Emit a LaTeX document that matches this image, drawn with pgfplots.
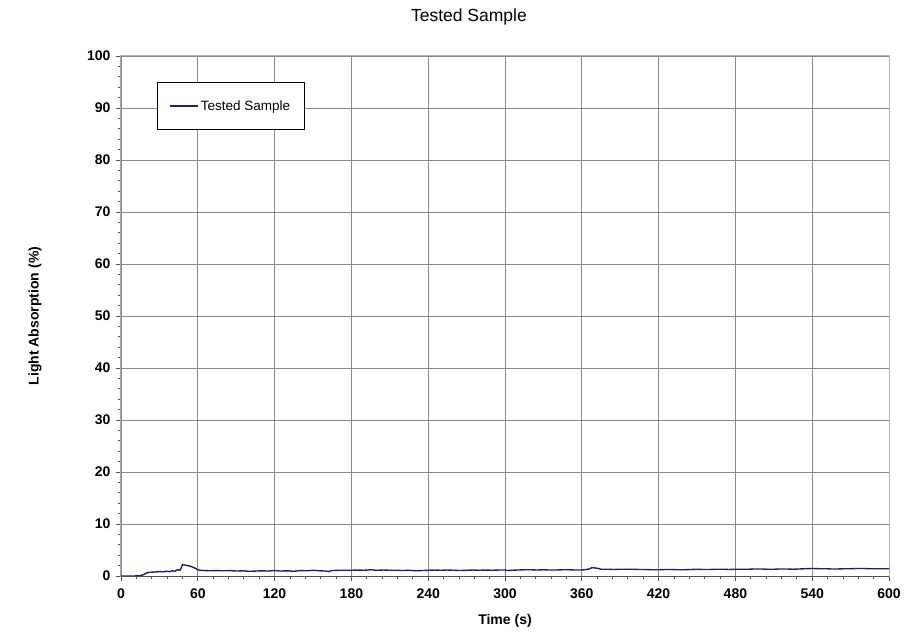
\documentclass[border=0pt]{standalone}
\usepackage{fontspec}
\setmainfont{Liberation Sans}
\usepackage{pgfplots}
\pgfplotsset{compat=1.18}
\definecolor{navyline}{HTML}{1F1F6E}
\definecolor{gridgray}{HTML}{8A8A8A}
\definecolor{boxgray}{HTML}{A8B4C0}
\definecolor{axisdark}{HTML}{505050}
\begin{document}
\begin{tikzpicture}
\path[use as bounding box] (-121pt,-58pt) rectangle (783pt,576pt);
\begin{axis}[
    at={(0pt,0pt)}, anchor=south west,
    scale only axis,
    width=768pt, height=520pt,
    xmin=0, xmax=600, ymin=0, ymax=100,
    xtick={0,60,...,600}, ytick={0,10,...,100},
    minor x tick num=4, minor y tick num=4,
    tick align=outside,
    major tick length=5pt, minor tick length=3pt,
    tick style={axisdark, line width=0.8pt},
    xtick pos=bottom, ytick pos=left,
    grid=major,
    major grid style={gridgray, line width=0.9pt},
    axis line style={boxgray, line width=1pt},
    /pgf/number format/assume math mode=true,
    ticklabel style={font=\fontsize{14}{16}\selectfont\bfseries},
    xticklabel style={yshift=-4pt},
    yticklabel style={xshift=-2pt},
    title={Tested Sample},
    title style={font=\fontsize{17.5}{19}\selectfont, at={(0.453,1)}, anchor=center, yshift=33pt},
    xlabel={Time (s)},
    ylabel={Light Absorption (\%)},
    xlabel style={font=\fontsize{14}{16}\selectfont\bfseries, at={(axis description cs:0.5,-0.087)}, anchor=center},
    ylabel style={font=\fontsize{14}{16}\selectfont\bfseries, at={(axis description cs:-0.112,0.5)}, anchor=center},
    legend style={at={(0.047,0.95)}, anchor=north west, draw=black, line width=0.6pt,
        font=\fontsize{13.5}{15}\selectfont, inner xsep=12pt, inner ysep=16pt},
    legend cell align=left,
    legend image code/.code={\draw[#1] (0pt,0pt) -- (28pt,0pt);},
]
\addplot[navyline, line width=1.4pt] coordinates {
(0,0) (5,0) (10,0) (15,0.05) (18,0.3) (20,0.6) (22,0.7) (25,0.75) (28,0.8)
(30,0.85) (33,0.8) (35,0.9) (38,0.85) (40,1.0) (42,0.9) (44,1.2) (46,1.1)
(47,1.5) (48,2.2) (50,2.1) (52,2.0) (54,1.9) (56,1.7) (58,1.5) (60,1.2)
(62,1.1) (65,1.05) (70,1.0) (75,1.05) (80,1.0) (85,1.05) (90,0.95) (95,1.0)
(100,0.9) (105,0.95) (110,1.0) (115,0.95) (120,1.05) (125,0.95) (130,1.0)
(135,0.9) (140,1.05) (145,1.0) (150,1.1) (155,1.0) (160,0.95) (162,0.85)
(165,1.05) (170,1.1) (175,1.1) (180,1.1) (185,1.15) (190,1.1) (195,1.2)
(200,1.1) (205,1.15) (210,1.1) (215,1.1) (220,1.05) (225,1.1) (230,1.0)
(235,1.05) (240,1.1) (245,1.15) (250,1.1) (255,1.15) (260,1.1) (265,1.05)
(270,1.1) (275,1.15) (280,1.1) (285,1.15) (290,1.1) (295,1.15) (300,1.15)
(302,1.05) (305,1.1) (310,1.15) (315,1.2) (320,1.2) (325,1.15) (330,1.2)
(335,1.15) (340,1.15) (345,1.2) (350,1.2) (355,1.15) (360,1.15) (365,1.3)
(368,1.6) (372,1.5) (375,1.3) (380,1.3) (385,1.25) (390,1.3) (395,1.3)
(400,1.3) (405,1.25) (410,1.25) (415,1.2) (420,1.2) (425,1.25) (430,1.25)
(435,1.2) (440,1.2) (445,1.25) (450,1.3) (455,1.25) (460,1.25) (465,1.3)
(470,1.3) (475,1.25) (480,1.3) (485,1.3) (490,1.3) (495,1.35) (500,1.35)
(505,1.3) (510,1.3) (515,1.35) (520,1.35) (525,1.3) (530,1.35) (535,1.4)
(540,1.45) (545,1.4) (550,1.4) (555,1.35) (560,1.35) (565,1.4) (570,1.4)
(575,1.45) (580,1.45) (585,1.4) (590,1.4) (595,1.4) (600,1.4)
};
\addlegendentry{Tested Sample}
\draw[axisdark, line width=1pt] (rel axis cs:0,1) -- (rel axis cs:0,0) -- (rel axis cs:1,0);
\end{axis}
\end{tikzpicture}
\end{document}
